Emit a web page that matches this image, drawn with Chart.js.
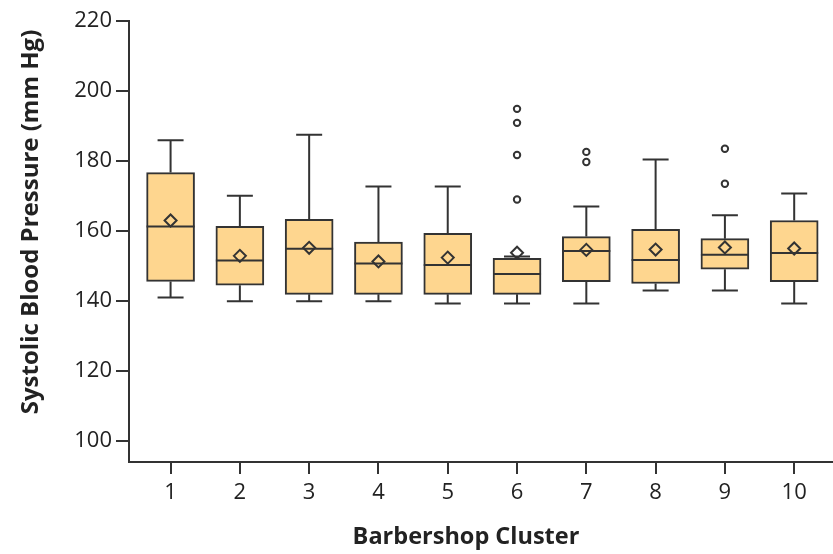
<!DOCTYPE html>
<html>
<head>
<meta charset="utf-8">
<script src="https://cdn.jsdelivr.net/npm/chart.js@4"></script>
<style>
  html, body { margin: 0; padding: 0; background: #ffffff; overflow: hidden; }
  #wrap { width: 833px; height: 554px; position: relative; }
</style>
</head>
<body>
<div id="wrap"><canvas id="c"></canvas></div>
<script>
// ---- data ----
const clusters    = [1, 2, 3, 4, 5, 6, 7, 8, 9, 10];
const q1          = [145.6, 144.5, 141.9, 141.9, 141.9, 141.9, 145.5, 145.0, 149.1, 145.5];
const q3          = [176.7, 161.3, 163.3, 156.8, 159.3, 152.2, 158.4, 160.5, 157.8, 163.0];
const medians     = [161.3, 151.6, 154.9, 150.7, 150.3, 147.7, 154.3, 151.7, 153.2, 153.7];
const means       = [163.0, 152.9, 155.2, 151.3, 152.4, 153.8, 154.6, 154.7, 155.3, 155.0];
const whiskerLow  = [141.0, 139.9, 139.9, 139.9, 139.3, 139.3, 139.3, 143.0, 143.0, 139.3];
const whiskerHigh = [185.9, 170.1, 187.5, 172.7, 172.7, 152.7, 167.0, 180.4, 164.5, 170.7];
const outlierCluster = [6, 6, 6, 6, 7, 7, 9, 9];
const outlierValue   = [194.9, 190.9, 181.7, 169.0, 182.6, 179.7, 183.5, 173.5];
const yTicks = [100, 120, 140, 160, 180, 200, 220];
const yTitle = 'Systolic Blood Pressure (mm Hg)';
const xTitle = 'Barbershop Cluster';

const INK = '#333333';
const BOX = '#FED68F';
const FONT = '"Open Sans", sans-serif';

const boxData = clusters.map((c, i) => ({ x: c, y: [q1[i], q3[i]] }));
const meanData = clusters.map((c, i) => ({ x: c, y: means[i] }));
const outData = outlierCluster.map((c, i) => ({ x: c, y: outlierValue[i] }));

const whiskerPlugin = {
  id: 'whiskers',
  afterDatasetsDraw(chart) {
    const ctx = chart.ctx, xs = chart.scales.x, ys = chart.scales.y;
    const half = 24, cap = 13;
    ctx.save();
    ctx.strokeStyle = INK;
    ctx.lineWidth = 2;
    clusters.forEach((c, i) => {
      const px = xs.getPixelForValue(c);
      const yLo = ys.getPixelForValue(whiskerLow[i]);
      const yHi = ys.getPixelForValue(whiskerHigh[i]);
      const yQ1 = ys.getPixelForValue(q1[i]);
      const yQ3 = ys.getPixelForValue(q3[i]);
      const yMed = ys.getPixelForValue(medians[i]);
      ctx.beginPath();
      ctx.moveTo(px, yQ3); ctx.lineTo(px, yHi);
      ctx.moveTo(px - cap, yHi); ctx.lineTo(px + cap, yHi);
      ctx.moveTo(px, yQ1); ctx.lineTo(px, yLo);
      ctx.moveTo(px - cap, yLo); ctx.lineTo(px + cap, yLo);
      ctx.moveTo(px - half, yMed); ctx.lineTo(px + half, yMed);
      ctx.stroke();
    });
    ctx.restore();
  }
};

const titlePlugin = {
  id: 'axisTitles',
  afterDraw(chart) {
    const ctx = chart.ctx;
    ctx.save();
    ctx.fillStyle = '#222222';
    ctx.textAlign = 'center';
    ctx.textBaseline = 'middle';
    ctx.font = 'bold 23.5px ' + FONT;
    ctx.fillText(xTitle, 466, 537);
    ctx.font = 'bold 24px ' + FONT;
    ctx.translate(31, 222);
    ctx.rotate(-Math.PI / 2);
    ctx.fillText(yTitle, 0, 0);
    ctx.restore();
  }
};

new Chart(document.getElementById('c'), {
  data: {
    datasets: [
      {
        type: 'bar',
        data: boxData,
        backgroundColor: BOX,
        borderColor: INK,
        borderWidth: 2,
        borderSkipped: false,
        barThickness: 48,
        order: 3
      },
      {
        type: 'scatter',
        data: meanData,
        pointStyle: 'rectRot',
        pointRadius: 6,
        pointBackgroundColor: 'rgba(0,0,0,0)',
        pointBorderColor: INK,
        pointBorderWidth: 2,
        order: 1
      },
      {
        type: 'scatter',
        data: outData,
        pointStyle: 'circle',
        pointRadius: 3.2,
        pointBackgroundColor: '#ffffff',
        pointBorderColor: INK,
        pointBorderWidth: 2,
        order: 2
      }
    ]
  },
  options: {
    responsive: true,
    maintainAspectRatio: false,
    animation: false,
    layout: { autoPadding: false, padding: { top: 21, right: 0, bottom: 0, left: 0 } },
    plugins: { legend: { display: false }, tooltip: { enabled: false } },
    scales: {
      x: {
        type: 'linear',
        offset: false,
        min: 0.40,
        max: 10.56,
        afterBuildTicks(s) { s.ticks = clusters.map(v => ({ value: v })); },
        afterFit(s) { s.height = 92; s.paddingLeft = 0; s.paddingRight = 0; },
        grid: { offset: false, drawOnChartArea: false, drawTicks: true, tickLength: 12, color: INK, lineWidth: 2 },
        border: { display: true, color: INK, width: 2 },
        ticks: { color: '#222222', font: { family: FONT, size: 22 }, padding: 6, maxRotation: 0,
                 callback: v => String(v) }
      },
      y: {
        type: 'linear',
        min: 94,
        max: 220,
        afterBuildTicks(s) { s.ticks = yTicks.map(v => ({ value: v })); },
        afterFit(s) { s.width = 129; s.paddingLeft = 0; s.paddingRight = 0; },
        grid: { drawOnChartArea: false, drawTicks: true, tickLength: 13, color: INK, lineWidth: 2 },
        border: { display: true, color: INK, width: 2 },
        ticks: { color: '#222222', font: { family: FONT, size: 22 }, padding: 4, callback: v => String(v) }
      }
    }
  },
  plugins: [whiskerPlugin, titlePlugin]
});
</script>
</body>
</html>
